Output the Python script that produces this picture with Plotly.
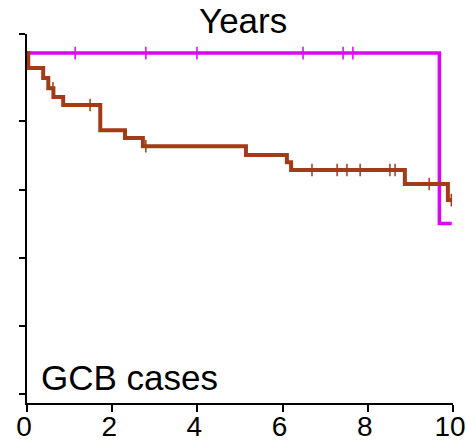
import plotly.graph_objects as go

# Kaplan-Meier estimate for the GCB cases: event times (years) and survival after each event
gcb_event_years = [0.03, 0.38, 0.50, 0.62, 0.85, 1.72, 2.30, 2.72, 5.14, 6.10, 6.20, 8.87, 9.88]
gcb_survival = [0.956, 0.927, 0.897, 0.871, 0.848, 0.774, 0.751, 0.727, 0.701, 0.680, 0.657, 0.616, 0.569]
gcb_followup_end = 9.97
gcb_censor_years = [0.61, 1.48, 2.79, 6.69, 7.28, 7.51, 7.82, 8.52, 8.64, 9.44, 9.96]

# Comparison group: a single late event
grp2_event_years = [9.68]
grp2_survival = [0.50]
grp2_followup_end = 9.97
grp2_censor_years = [1.13, 2.79, 3.99, 6.48, 7.42, 7.65]

x_ticks = [0, 2, 4, 6, 8, 10]
y_ticks = [0, 0.2, 0.4, 0.6, 0.8]

BROWN = "#a23b16"
MAGENTA = "#e100ff"
FONT = "Liberation Sans, Arial, sans-serif"


def step_curve(times, surv, end):
    xs = [0.0] + list(times) + [end]
    ys = [1.0] + list(surv) + [surv[-1]]
    return xs, ys


def surv_at(t, times, surv):
    s = 1.0
    for ti, si in zip(times, surv):
        if ti <= t:
            s = si
    return s


fig = go.Figure()

for times, surv, end, cens, color, width in [
    (grp2_event_years, grp2_survival, grp2_followup_end, grp2_censor_years, MAGENTA, 3.5),
    (gcb_event_years, gcb_survival, gcb_followup_end, gcb_censor_years, BROWN, 4),
]:
    xs, ys = step_curve(times, surv, end)
    fig.add_trace(go.Scatter(x=xs, y=ys, mode="lines", line=dict(color=color, width=width, shape="hv"),
                             hoverinfo="skip", showlegend=False))
    fig.add_trace(go.Scatter(x=cens, y=[surv_at(c, times, surv) for c in cens], mode="markers",
                             marker=dict(symbol="line-ns", size=9, line=dict(color=color, width=1.5)),
                             showlegend=False, cliponaxis=False))

y_lo, y_hi = -0.026, 1.056

fig.update_layout(
    width=466, height=443,
    margin=dict(l=27, r=13, t=34, b=40),
    paper_bgcolor="white", plot_bgcolor="white",
    font=dict(family=FONT, size=30, color="black"),
    xaxis=dict(range=[0, 10], tickvals=x_ticks, ticktext=[str(v) for v in x_ticks],
               showline=True, linecolor="black", linewidth=2, mirror=False,
               ticks="outside", ticklen=7, tickwidth=2, tickcolor="black",
               showgrid=False, zeroline=False, tickfont=dict(size=28),
               automargin=False, ticklabeloverflow="allow", ticklabelstandoff=-10,
               ticklabelshift=-3),
    yaxis=dict(range=[y_lo, y_hi], tickvals=y_ticks + [y_hi], showticklabels=False,
               showline=True, linecolor="black", linewidth=2,
               ticks="outside", ticklen=6, tickwidth=2, tickcolor="black",
               showgrid=False, zeroline=False, automargin=False),
    annotations=[
        dict(text="Years", xref="paper", yref="paper", x=0.508, y=1.036, xanchor="center", yanchor="middle",
             showarrow=False, font=dict(size=35)),
        dict(text="GCB cases", xref="paper", yref="paper", x=0.028, y=0.07, xanchor="left", yanchor="middle",
             showarrow=False, font=dict(size=35)),
    ],
)

fig.write_html("out.html")
